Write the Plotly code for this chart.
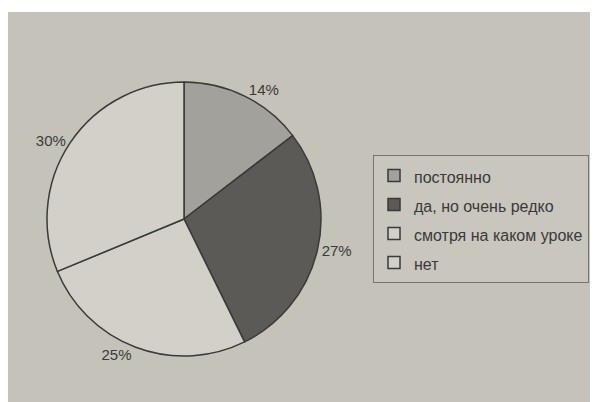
import plotly.graph_objects as go

categories = ["постоянно", "да, но очень редко", "смотря на каком уроке", "нет"]
values = [14, 27, 25, 30]
label_text = ["14%", "27%", "25%", "30%"]
slice_colors = ["#a3a19b", "#5c5a57", "#d2d0c9", "#d2d0c9"]

# the page adds an 8px body margin; figure covers the rest of the 598x402 window
OFF = 8
W, H = 598 - OFF, 402 - OFF
cx, cy, r = 184 - OFF, 219 - OFF, 137

legend_labels = ["<span style='font-size:16px'>%s</span>" % c for c in categories]

fig = go.Figure(go.Pie(
    labels=legend_labels,
    values=values,
    text=label_text,
    textinfo="text",
    textposition="outside",
    sort=False,
    direction="clockwise",
    rotation=0,
    marker=dict(colors=slice_colors, line=dict(color="#3a3a38", width=1.5)),
    textfont=dict(family="Liberation Sans, Arial, sans-serif", size=15, color="#3a3a38"),
    domain=dict(x=[(cx - r) / W, (cx + r) / W], y=[(H - cy - r) / H, (H - cy + r) / H]),
    hoverinfo="label+text",
))

fig.update_layout(
    width=W, height=H,
    margin=dict(l=0, r=0, t=0, b=0),
    paper_bgcolor="white",
    shapes=[dict(type="rect", xref="paper", yref="paper", x0=0, x1=1, y0=0, y1=(H - 4) / H,
                 fillcolor="#c5c2ba", line=dict(width=0), layer="below")],
    legend=dict(
        x=(373 - OFF) / W, y=(H - (155 - OFF)) / H, xanchor="left", yanchor="top",
        bgcolor="#c9c6be", bordercolor="#77756f", borderwidth=1,
        font=dict(family="Liberation Sans, Arial, sans-serif", size=20, color="#3a3a38"),
        itemwidth=30,
    ),
    showlegend=True,
)

fig.write_html("out.html")
